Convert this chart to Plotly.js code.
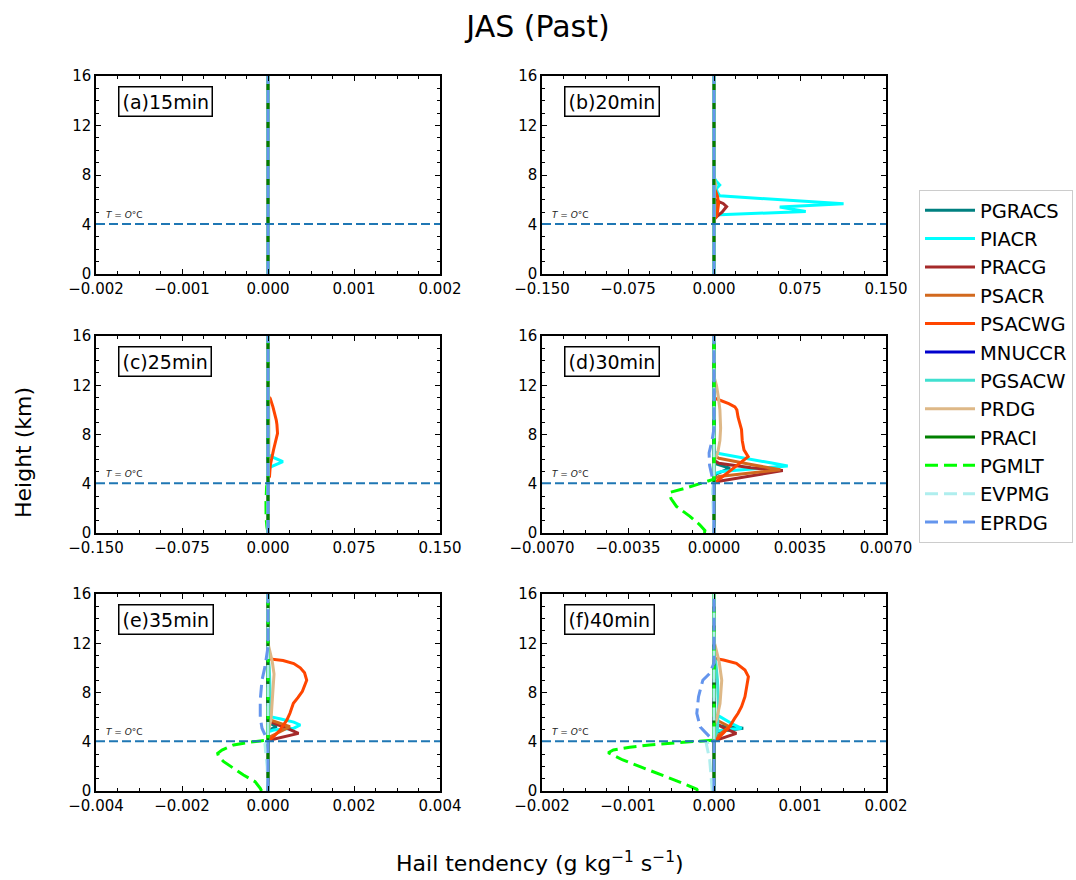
<!DOCTYPE html>
<html>
<head>
<meta charset="utf-8">
<script src="https://cdn.plot.ly/plotly-3.0.1.min.js"></script>
<style>
  html, body { margin: 0; padding: 0; background: #ffffff; }
  #chart { width: 1076px; height: 880px; }
</style>
</head>
<body>
<div id="chart"></div>
<script>
// ---------------- series ----------------
const seriesNames  = ['PGRACS', 'PIACR', 'PRACG', 'PSACR', 'PSACWG', 'MNUCCR',
                      'PGSACW', 'PRDG', 'PRACI', 'PGMLT', 'EVPMG', 'EPRDG'];
const seriesColors = ['#008080', '#00ffff', '#a52a2a', '#d2691e', '#ff4500', '#0000cd',
                      '#40e0d0', '#deb887', '#008000', '#00ff00', '#afeeee', '#6495ed'];
const seriesDashed = [false, false, false, false, false, false,
                      false, false, false, true, true, true];

// ---------------- panels ----------------
const panelKeys   = ['a', 'b', 'c', 'd', 'e', 'f'];
const panelLabels = ['(a)15min', '(b)20min', '(c)25min', '(d)30min', '(e)35min', '(f)40min'];
const xLimits     = [0.002, 0.15, 0.15, 0.007, 0.004, 0.002];
const xTickSteps  = [0.001, 0.075, 0.075, 0.0035, 0.002, 0.001];
const xTickDigits = [3, 3, 3, 4, 3, 3];
const heightTicks = [0, 4, 8, 12, 16];
const freezingLevel = 4.05;   // km, T = 0 °C

// A process that is zero through the whole column
const zeroZ = [0, 16];
const zeroX = [0, 0];

// ---------------- (b) 20 min ----------------
const b_PIACR_z  = [0, 4.6, 4.79, 5.05, 5.41, 5.67, 6.32, 6.6, 6.9, 7.2, 7.5, 7.76, 16];
const b_PIACR_x  = [0, 0, 0.005, 0.080, 0.0573, 0.113, 0.005, 0.003, 0.002, 0.005, 0.002, 0, 0];
const b_PRACG_z  = [0, 4.4, 4.54, 5.0, 5.45, 5.7, 5.93, 6.1, 16];
const b_PRACG_x  = [0, 0, 0.001, 0.007, 0.011, 0.008, 0.002, 0, 0];
const b_PSACR_z  = [0, 4.7, 5.2, 5.6, 6.0, 16];
const b_PSACR_x  = [0, 0, 0.002, 0.003, 0, 0];
const b_PSACWG_z = [0, 4.4, 4.6, 5.0, 5.7, 6.3, 6.8, 7.0, 16];
const b_PSACWG_x = [0, 0, 0.002, 0.003, 0.004, 0.003, 0.001, 0, 0];
const b_PRDG_z   = [0, 6.5, 7.2, 7.8, 16];
const b_PRDG_x   = [0, 0, 0.0015, 0, 0];

// ---------------- (c) 25 min ----------------
const c_PIACR_z  = [0, 5.2, 5.4, 5.8, 6.2, 6.4, 16];
const c_PIACR_x  = [0, 0, 0.003, 0.013, 0.003, 0, 0];
const c_PSACWG_z = [0, 4.4, 4.58, 5.5, 6.74, 7.5, 8.1, 8.8, 9.17, 10.25, 10.93, 11.1, 16];
const c_PSACWG_x = [0, 0, 0.0013, 0.002, 0.0048, 0.0068, 0.0083, 0.0078, 0.0072, 0.0043, 0.0019, 0, 0];
const c_PRDG_z   = [0, 5, 7, 9, 11, 12, 16];
const c_PRDG_x   = [0, 0, 0.0008, 0.001, 0.0006, 0, 0];
const c_PGMLT_z  = [0, 0.5, 1.3, 2.5, 3.8, 4.1, 16];
const c_PGMLT_x  = [0, -0.001, -0.0017, -0.0018, -0.0012, 0, 0];

// ---------------- (d) 30 min ----------------
const d_PGRACS_z = [0, 4.6, 4.8, 5.26, 5.6, 5.8, 16];
const d_PGRACS_x = [0, 0, 0.0001, 0.00065, 0.0001, 0, 0];
const d_PIACR_z  = [0, 4.8, 5.0, 5.2, 5.45, 5.7, 6.0, 6.3, 6.45, 6.6, 16];
const d_PIACR_x  = [0, 0, 0.0003, 0.0015, 0.003, 0.0023, 0.00143, 0.0006, 0.0002, 0, 0];
const d_PRACG_z  = [0, 4.1, 4.2, 4.6, 5.07, 5.3, 5.67, 5.9, 16];
const d_PRACG_x  = [0, 0, 0.0002, 0.0014, 0.0028, 0.0015, 0.0002, 0, 0];
const d_PSACR_z  = [0, 4.4, 4.59, 4.85, 5.13, 5.6, 6.07, 6.3, 16];
const d_PSACR_x  = [0, 0, 0.0002, 0.0014, 0.0027, 0.0014, 0.0002, 0, 0];
const d_PSACWG_z = [0, 4.1, 4.18, 4.6, 5.4, 6.2, 6.75, 7.5, 8.4, 9.4, 10.0, 10.25, 10.5, 10.7, 10.85, 10.95, 11.05, 16];
const d_PSACWG_x = [0, 0, 0.0001, 0.00037, 0.00092, 0.00139, 0.00122, 0.00115, 0.00112, 0.00098, 0.00093, 0.00085, 0.0006, 0.00037, 0.00015, 0.00003, 0, 0];
const d_PRDG_z   = [0, 5.8, 6.5, 7.5, 8.5, 9.2, 10.0, 11.0, 12.0, 12.7, 16];
const d_PRDG_x   = [0, 0, 0.00015, 0.00024, 0.00027, 0.00027, 0.00024, 0.00018, 0.0001, 0, 0];
const d_PGMLT_z  = [0, 0.2, 0.67, 1.35, 2.16, 2.8, 3.1, 3.3, 3.6, 4.0, 4.37, 16];
const d_PGMLT_x  = [-0.00039, -0.00037, -0.00058, -0.00098, -0.00153, -0.00175, -0.0018, -0.0018, -0.00123, -0.0006, 0, 0];
const d_EVPMG_z  = [0, 1.5, 2.5, 3.5, 4.2, 16];
const d_EVPMG_x  = [0, -0.00002, -0.00005, -0.00006, 0, 0];
const d_EPRDG_z  = [0, 4.2, 4.6, 5.5, 6.5, 7.5, 8.5, 16];
const d_EPRDG_x  = [0, 0, -0.00008, -0.00018, -0.0002, -0.00008, 0, 0];

// ---------------- (e) 35 min ----------------
const e_PGRACS_z = [0, 4.8, 5.0, 5.22, 5.5, 5.7, 16];
const e_PGRACS_x = [0, 0, 0.00005, 0.0002, 0.00005, 0, 0];
const e_PIACR_z  = [0, 4.8, 4.95, 5.1, 5.36, 5.6, 5.85, 6.04, 6.2, 16];
const e_PIACR_x  = [0, 0, 0.00013, 0.0006, 0.00075, 0.0006, 0.0003, 0.00005, 0, 0];
const e_PRACG_z  = [0, 4.1, 4.14, 4.68, 5.0, 5.3, 5.63, 5.8, 16];
const e_PRACG_x  = [0, 0, 0.00005, 0.00071, 0.0005, 0.0003, 0.00005, 0, 0];
const e_PSACR_z  = [0, 4.3, 4.41, 5.22, 5.77, 5.9, 16];
const e_PSACR_x  = [0, 0, 0.00005, 0.00051, 0.00005, 0, 0];
const e_PSACWG_z = [0, 4.0, 4.14, 4.41, 4.95, 5.77, 6.31, 7.12, 7.6, 8.1, 9.0, 9.6, 10.0, 10.35, 10.6, 10.7, 10.75, 16];
const e_PSACWG_x = [0, 0, 0.00003, 0.00013, 0.00028, 0.00044, 0.00051, 0.00059, 0.0007, 0.0008, 0.0009, 0.00085, 0.00075, 0.0006, 0.00035, 0.00005, 0, 0];
const e_PGSACW_z = [0, 4.2, 6, 8, 10, 11, 16];
const e_PGSACW_x = [0, 0, 0.00004, 0.00005, 0.00003, 0, 0];
const e_PRDG_z   = [0, 4.8, 5.8, 7.7, 9.5, 10.5, 11.7, 12, 16];
const e_PRDG_x   = [0, 0, 0.00007, 0.0001, 0.00014, 0.0001, 0.00002, 0, 0];
const e_PGMLT_z  = [0, 0.22, 0.76, 1.3, 1.84, 2.38, 2.8, 3.06, 3.33, 3.74, 3.93, 4.14, 16];
const e_PGMLT_x  = [-0.00015, -0.00018, -0.0003, -0.00057, -0.0008, -0.00103, -0.00115, -0.00117, -0.00107, -0.0008, -0.00049, 0, 0];
const e_EVPMG_z  = [0, 2.0, 3.0, 3.8, 4.14, 16];
const e_EVPMG_x  = [0, -0.00002, -0.00005, -0.00007, 0, 0];
const e_EPRDG_z  = [0, 4.1, 4.2, 4.55, 5.1, 6.0, 7.4, 9.0, 10.1, 11.7, 12.5, 16];
const e_EPRDG_x  = [0, 0, 0, -0.00007, -0.00014, -0.00018, -0.00018, -0.00014, -0.00007, 0, 0, 0];

// ---------------- (f) 40 min ----------------
const f_PGRACS_z = [0, 4.7, 4.85, 5.09, 5.3, 5.5, 16];
const f_PGRACS_x = [0, 0, 0.00007, 0.00034, 0.00007, 0, 0];
const f_PIACR_z  = [0, 4.8, 4.95, 5.09, 5.5, 6.04, 6.2, 16];
const f_PIACR_x  = [0, 0, 0.0001, 0.00032, 0.0002, 0.00007, 0, 0];
const f_PRACG_z  = [0, 4.0, 4.14, 4.68, 5.1, 5.5, 5.7, 16];
const f_PRACG_x  = [0, 0, 0.00003, 0.00026, 0.00012, 0.00002, 0, 0];
const f_PSACR_z  = [0, 4.3, 4.41, 5.22, 5.77, 5.9, 16];
const f_PSACR_x  = [0, 0, 0.00003, 0.00018, 0.00003, 0, 0];
const f_PSACWG_z = [0, 4.15, 4.28, 4.68, 5.22, 5.9, 6.31, 6.85, 7.66, 8.47, 9.29, 9.83, 10.37, 10.64, 10.77, 10.85, 16];
const f_PSACWG_x = [0, 0, 0.00005, 0.00011, 0.00018, 0.00024, 0.00028, 0.00032, 0.00036, 0.00038, 0.0004, 0.00036, 0.00026, 0.00011, 0.00001, 0, 0];
const f_PGSACW_z = [0, 4.2, 5, 7, 9, 10.5, 11, 16];
const f_PGSACW_x = [0, 0, 0.00004, 0.00005, 0.00004, 0.00002, 0, 0];
const f_PRDG_z   = [0, 5.3, 5.8, 7.1, 9.0, 10.5, 11.9, 12.1, 16];
const f_PRDG_x   = [0, 0, 0.00003, 0.00007, 0.00009, 0.00006, 0.00001, 0, 0];
const f_PGMLT_z  = [0, 0.14, 0.62, 1.43, 1.98, 2.52, 3.11, 3.33, 3.55, 3.74, 3.87, 3.98, 4.09, 4.14, 16];
const f_PGMLT_x  = [-0.00019, -0.0002, -0.00036, -0.00067, -0.00086, -0.00106, -0.00123, -0.00117, -0.00098, -0.00075, -0.00051, -0.00028, -0.00007, 0, 0];
const f_EVPMG_z  = [0, 1.16, 2.52, 3.87, 4.14, 16];
const f_EVPMG_x  = [-0.00002, -0.00003, -0.00005, -0.00009, 0, 0];
const f_EPRDG_z  = [0, 4.14, 4.4, 5.2, 6.3, 7.66, 9.0, 9.55, 10.4, 10.6, 16];
const f_EPRDG_x  = [0, 0, -0.00005, -0.00016, -0.0002, -0.00018, -0.00013, -0.00005, 0, 0, 0];

// Lookup of non-zero profiles per panel (everything else is zeroZ / zeroX)
const profiles = {
  a: {},
  b: { PIACR: [b_PIACR_z, b_PIACR_x], PRACG: [b_PRACG_z, b_PRACG_x], PSACR: [b_PSACR_z, b_PSACR_x],
       PSACWG: [b_PSACWG_z, b_PSACWG_x], PRDG: [b_PRDG_z, b_PRDG_x] },
  c: { PIACR: [c_PIACR_z, c_PIACR_x], PSACWG: [c_PSACWG_z, c_PSACWG_x], PRDG: [c_PRDG_z, c_PRDG_x],
       PGMLT: [c_PGMLT_z, c_PGMLT_x] },
  d: { PGRACS: [d_PGRACS_z, d_PGRACS_x], PIACR: [d_PIACR_z, d_PIACR_x], PRACG: [d_PRACG_z, d_PRACG_x],
       PSACR: [d_PSACR_z, d_PSACR_x], PSACWG: [d_PSACWG_z, d_PSACWG_x], PRDG: [d_PRDG_z, d_PRDG_x],
       PGMLT: [d_PGMLT_z, d_PGMLT_x], EVPMG: [d_EVPMG_z, d_EVPMG_x], EPRDG: [d_EPRDG_z, d_EPRDG_x] },
  e: { PGRACS: [e_PGRACS_z, e_PGRACS_x], PIACR: [e_PIACR_z, e_PIACR_x], PRACG: [e_PRACG_z, e_PRACG_x],
       PSACR: [e_PSACR_z, e_PSACR_x], PSACWG: [e_PSACWG_z, e_PSACWG_x], PGSACW: [e_PGSACW_z, e_PGSACW_x],
       PRDG: [e_PRDG_z, e_PRDG_x], PGMLT: [e_PGMLT_z, e_PGMLT_x], EVPMG: [e_EVPMG_z, e_EVPMG_x],
       EPRDG: [e_EPRDG_z, e_EPRDG_x] },
  f: { PGRACS: [f_PGRACS_z, f_PGRACS_x], PIACR: [f_PIACR_z, f_PIACR_x], PRACG: [f_PRACG_z, f_PRACG_x],
       PSACR: [f_PSACR_z, f_PSACR_x], PSACWG: [f_PSACWG_z, f_PSACWG_x], PGSACW: [f_PGSACW_z, f_PGSACW_x],
       PRDG: [f_PRDG_z, f_PRDG_x], PGMLT: [f_PGMLT_z, f_PGMLT_x], EVPMG: [f_EVPMG_z, f_EVPMG_x],
       EPRDG: [f_EPRDG_z, f_EPRDG_x] }
};

// ---------------- layout geometry ----------------
const W = 1076, H = 880;
const FONT = 'DejaVu Sans, Liberation Sans, sans-serif';
const colDomains = [[96 / W, 440 / W], [542 / W, 886 / W]];
const rowDomains = [[1 - 274 / H, 1 - 76 / H], [1 - 533 / H, 1 - 336 / H], [1 - 791 / H, 1 - 594 / H]];

function fmt(v, digits) {
  return v.toFixed(digits).replace('-', '\u2212');
}

const traces = [];
const layout = {
  width: W, height: H, autosize: false,
  margin: { l: 0, r: 0, t: 0, b: 0 },
  paper_bgcolor: '#ffffff', plot_bgcolor: '#ffffff',
  font: { family: FONT, size: 15, color: '#000000' },
  showlegend: true,
  legend: {
    x: 919 / W, y: 1 - 190 / H, xanchor: 'left', yanchor: 'top',
    bgcolor: '#ffffff', bordercolor: '#cccccc', borderwidth: 1,
    font: { family: FONT, size: 19.5, color: '#000000' },
    itemwidth: 50, tracegroupgap: 0
  },
  title: {
    text: 'JAS (Past)', x: 0.5, xanchor: 'center', y: 1 - 26 / H, yanchor: 'middle',
    font: { family: FONT, size: 30, color: '#000000' }
  },
  shapes: [],
  annotations: []
};

panelKeys.forEach((key, i) => {
  const n = i + 1;
  const xa = n === 1 ? 'x' : 'x' + n;
  const ya = n === 1 ? 'y' : 'y' + n;
  const row = Math.floor(i / 2), col = i % 2;
  const L = xLimits[i], step = xTickSteps[i];
  const tickv = [-L, -step, 0, step, L];

  seriesNames.forEach((name, s) => {
    const prof = profiles[key][name] || [zeroZ, zeroX];
    traces.push({
      type: 'scatter', mode: 'lines',
      x: prof[1], y: prof[0],
      xaxis: xa, yaxis: ya,
      name: name, legendgroup: name, showlegend: i === 0,
      line: { color: seriesColors[s], width: 3, dash: seriesDashed[s] ? '13px,6px' : 'solid' },
      hoverinfo: 'x+y+name'
    });
  });

  const axisCommon = {
    showline: true, linecolor: '#000000', linewidth: 1.5, mirror: 'allticks',
    ticks: 'inside', ticklen: 5, tickwidth: 1.2, tickcolor: '#000000',
    showgrid: false, zeroline: false, fixedrange: true,
    tickfont: { family: FONT, size: 15, color: '#000000' }
  };
  layout[n === 1 ? 'xaxis' : 'xaxis' + n] = Object.assign({}, axisCommon, {
    domain: colDomains[col], anchor: ya, range: [-L, L],
    tickmode: 'array', tickvals: tickv, ticktext: tickv.map(v => fmt(v, xTickDigits[i])),
    minor: { tickmode: 'linear', tick0: 0, dtick: step / 4, ticks: 'inside', ticklen: 3, tickwidth: 1, tickcolor: '#000000' }
  });
  layout[n === 1 ? 'yaxis' : 'yaxis' + n] = Object.assign({}, axisCommon, {
    domain: rowDomains[row], anchor: xa, range: [0, 16],
    tickmode: 'array', tickvals: heightTicks, ticktext: heightTicks.map(String),
    minor: { tickmode: 'linear', tick0: 0, dtick: 1, ticks: 'inside', ticklen: 3, tickwidth: 1, tickcolor: '#000000' }
  });

  // freezing level
  layout.shapes.push({
    type: 'line', xref: xa + ' domain', yref: ya, x0: 0, x1: 1, y0: freezingLevel, y1: freezingLevel,
    line: { color: '#1f77b4', width: 2, dash: '9px,4px' }, layer: 'above'
  });
  layout.annotations.push({
    xref: xa + ' domain', yref: ya, x: 0.022, y: freezingLevel, xanchor: 'left', yanchor: 'bottom',
    yshift: 2, showarrow: false, text: '<i>T</i> = <i>O</i>°C',
    font: { family: FONT, size: 9, color: '#222222' }
  });
  // panel tag
  layout.annotations.push({
    xref: xa + ' domain', yref: ya + ' domain', x: 22 / 344, y: 1 - 10 / 198,
    xanchor: 'left', yanchor: 'top', showarrow: false, text: panelLabels[i],
    font: { family: FONT, size: 19, color: '#000000' },
    bgcolor: '#ffffff', bordercolor: '#000000', borderwidth: 1.5, borderpad: 3
  });
});

// shared axis titles
layout.annotations.push({
  xref: 'paper', yref: 'paper', x: 23 / W, y: 1 - 453 / H, xanchor: 'center', yanchor: 'middle',
  textangle: -90, showarrow: false, text: 'Height (km)',
  font: { family: FONT, size: 22, color: '#000000' }
});
layout.annotations.push({
  xref: 'paper', yref: 'paper', x: 540 / W, y: 1 - 862 / H, xanchor: 'center', yanchor: 'middle',
  showarrow: false, text: 'Hail tendency (g kg<sup>\u22121</sup> s<sup>\u22121</sup>)',
  font: { family: FONT, size: 22, color: '#000000' }
});

Plotly.newPlot('chart', traces, layout, { displayModeBar: false, staticPlot: false });
</script>
</body>
</html>
